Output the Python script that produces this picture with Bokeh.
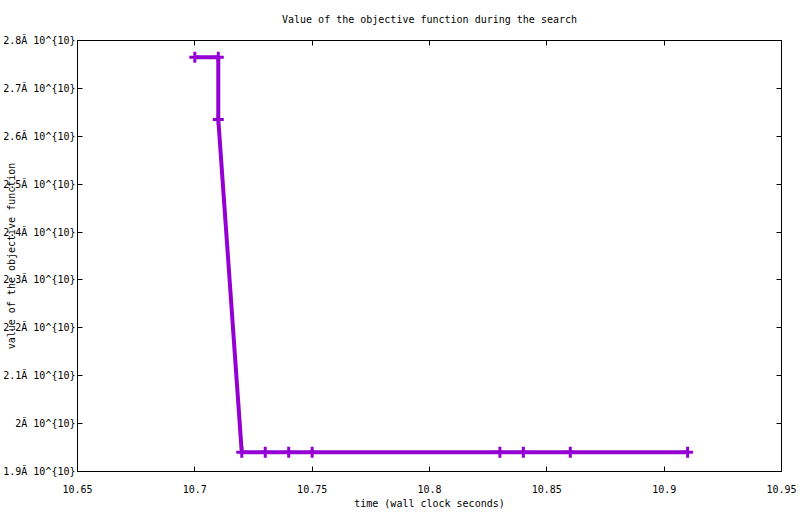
from bokeh.plotting import figure
from bokeh.models import Range1d, FixedTicker, LinearAxis
from bokeh.embed import file_html
from bokeh.resources import INLINE

# ---- data ----
times = [10.70, 10.71, 10.71, 10.72, 10.73, 10.74, 10.75, 10.83, 10.84, 10.86, 10.91]
values = [2.765e10, 2.765e10, 2.635e10, 1.940e10, 1.940e10, 1.940e10, 1.940e10,
          1.940e10, 1.940e10, 1.940e10, 1.940e10]

x_ticks = [10.65, 10.7, 10.75, 10.8, 10.85, 10.9, 10.95]
x_tick_labels = ["10.65", "10.7", "10.75", "10.8", "10.85", "10.9", "10.95"]
y_ticks = [1.9e10, 2.0e10, 2.1e10, 2.2e10, 2.3e10, 2.4e10, 2.5e10, 2.6e10, 2.7e10, 2.8e10]
y_tick_labels = ["1.9Ă 10^{10}", "2Ă 10^{10}", "2.1Ă 10^{10}", "2.2Ă 10^{10}",
                 "2.3Ă 10^{10}", "2.4Ă 10^{10}", "2.5Ă 10^{10}", "2.6Ă 10^{10}",
                 "2.7Ă 10^{10}", "2.8Ă 10^{10}"]

title_text = "Value of the objective function during the search"
x_label = "time (wall clock seconds)"
y_label = "value of the objective function"

FONT = "DejaVu Sans Mono"
FS = "10px"
COLOR = "#9400d3"

p = figure(width=800, height=514, output_backend="svg", toolbar_location=None,
           x_range=Range1d(10.65, 10.95), y_range=Range1d(1.9e10, 2.8e10),
           min_border_left=77, min_border_right=19, min_border_top=40,
           min_border_bottom=43)

p.title.text = title_text
p.title.align = "center"
p.title.vertical_align = "top"
p.title.text_font = FONT
p.title.text_font_size = FS
p.title.text_font_style = "normal"
p.title.text_color = "black"
p.title.standoff = 27

p.xgrid.visible = False
p.ygrid.visible = False
p.outline_line_color = "black"
p.outline_line_width = 1
p.background_fill_color = "white"
p.border_fill_color = "white"

def style_axis(ax, ticks, labels):
    ax.ticker = FixedTicker(ticks=ticks)
    ax.major_label_overrides = {t: l for t, l in zip(ticks, labels)}
    ax.major_tick_in = 5
    ax.major_tick_out = 0
    ax.minor_tick_line_color = None
    ax.axis_line_color = "black"
    ax.major_tick_line_color = "black"
    ax.major_label_text_font = FONT
    ax.major_label_text_font_size = FS
    ax.major_label_text_color = "black"

style_axis(p.xaxis[0], x_ticks, x_tick_labels)
style_axis(p.yaxis[0], y_ticks, y_tick_labels)
p.xaxis[0].major_label_standoff = 13
p.yaxis[0].major_label_standoff = 2
for ax, lab, so in ((p.xaxis[0], x_label, 2), (p.yaxis[0], y_label, -17)):
    ax.axis_label = lab
    ax.axis_label_text_font = FONT
    ax.axis_label_text_font_size = FS
    ax.axis_label_text_font_style = "normal"
    ax.axis_label_text_color = "black"
    ax.axis_label_standoff = so

# mirrored ticks (top and right), no labels
top = LinearAxis()
style_axis(top, x_ticks, ["" for _ in x_ticks])
top.major_label_standoff = 0
right = LinearAxis()
style_axis(right, y_ticks, ["" for _ in y_ticks])
right.major_label_standoff = 0
p.add_layout(top, "above")
p.add_layout(right, "right")

p.line(times, values, line_color=COLOR, line_width=4)
p.scatter(times, values, marker="cross", size=11, line_color=COLOR, line_width=3)

open("out.html", "w").write(file_html(p, INLINE))
